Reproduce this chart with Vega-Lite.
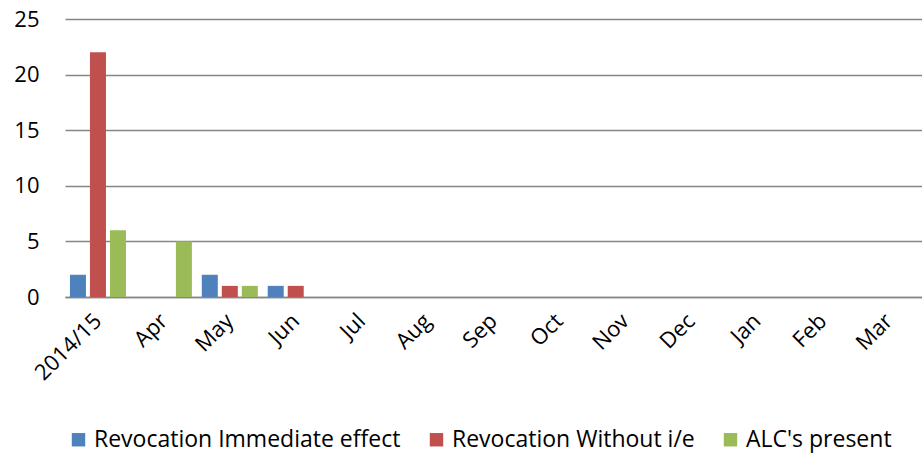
{
  "$schema": "https://vega.github.io/schema/vega-lite/v6.json",
  "autosize": "none",
  "width": 857,
  "height": 278,
  "padding": {"left": 65, "top": 19, "right": 0, "bottom": 162},
  "config": {
    "font": "Open Sans",
    "view": {"stroke": null},
    "axis": {"labelFont": "Open Sans", "labelFontSize": 22, "labelColor": "#000000"},
    "legend": {"labelFont": "Open Sans", "labelFontSize": 23, "labelColor": "#000000"}
  },
  "data": {
    "values": [
      {"month": "2014/15", "series": "Revocation Immediate effect", "value": 2},
      {"month": "2014/15", "series": "Revocation Without i/e", "value": 22},
      {"month": "2014/15", "series": "ALC's present", "value": 6},
      {"month": "Apr", "series": "Revocation Immediate effect", "value": 0},
      {"month": "Apr", "series": "Revocation Without i/e", "value": 0},
      {"month": "Apr", "series": "ALC's present", "value": 5},
      {"month": "May", "series": "Revocation Immediate effect", "value": 2},
      {"month": "May", "series": "Revocation Without i/e", "value": 1},
      {"month": "May", "series": "ALC's present", "value": 1},
      {"month": "Jun", "series": "Revocation Immediate effect", "value": 1},
      {"month": "Jun", "series": "Revocation Without i/e", "value": 1},
      {"month": "Jun", "series": "ALC's present", "value": 0}
    ]
  },
  "mark": {"type": "bar"},
  "encoding": {
    "x": {
      "field": "month",
      "type": "nominal",
      "sort": null,
      "title": null,
      "scale": {
        "domain": ["2014/15", "Apr", "May", "Jun", "Jul", "Aug", "Sep", "Oct", "Nov", "Dec", "Jan", "Feb", "Mar"],
        "paddingInner": 0.15,
        "paddingOuter": 0.075
      },
      "axis": {
        "labelAngle": -45,
        "labelAlign": "right",
        "labelBaseline": "middle",
        "labelPadding": 20,
        "ticks": false,
        "domainColor": "#868686",
        "domainWidth": 1.5,
        "grid": false
      }
    },
    "xOffset": {
      "field": "series",
      "type": "nominal",
      "sort": ["Revocation Immediate effect", "Revocation Without i/e", "ALC's present"],
      "scale": {"paddingInner": 0.2}
    },
    "y": {
      "field": "value",
      "type": "quantitative",
      "title": null,
      "scale": {"domain": [0, 25], "nice": false},
      "axis": {
        "values": [0, 5, 10, 15, 20, 25],
        "ticks": false,
        "domain": false,
        "labelPadding": 26,
        "gridColor": "#868686",
        "gridWidth": 1.5
      }
    },
    "color": {
      "field": "series",
      "type": "nominal",
      "sort": ["Revocation Immediate effect", "Revocation Without i/e", "ALC's present"],
      "scale": {
        "domain": ["Revocation Immediate effect", "Revocation Without i/e", "ALC's present"],
        "range": ["#4F81BD", "#C0504D", "#9BBB59"]
      },
      "legend": {
        "title": null,
        "orient": "none",
        "direction": "horizontal",
        "legendX": 2,
        "legendY": 409,
        "symbolType": "square",
        "symbolSize": 180,
        "symbolStrokeWidth": 0,
        "symbolOpacity": 1,
        "labelOffset": 4,
        "labelLimit": 0,
        "columnPadding": 24
      }
    }
  }
}
